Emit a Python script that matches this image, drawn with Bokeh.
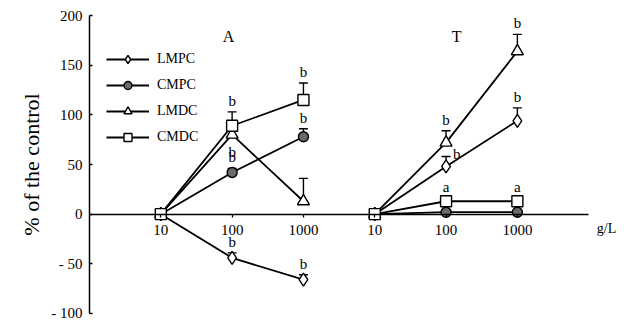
from bokeh.plotting import figure
from bokeh.models import Range1d, FixedTicker, Label, Legend, LegendItem, LinearAxis
from bokeh.embed import file_html
from bokeh.resources import INLINE

FONT = "Liberation Serif"

# ---- data ----
dose_labels = ["10", "100", "1000", "10", "100", "1000"]
x_pos = [0, 1, 2, 3, 4, 5]
group_names = ["A", "T"]
group_slices = [(0, 3), (3, 6)]
y_ticks = [-100, -50, 0, 50, 100, 150, 200]
y_tick_labels = ["- 100", "- 50", "0", "50", "100", "150", "200"]
unit_label = "g/L"
y_label = "% of the control"

series_names = ["LMPC", "CMPC", "LMDC", "CMDC"]
LMPC = [0, -44, -66, 0, 48, 94]
CMPC = [0, 42, 78, 0, 2, 2]
LMDC = [0, 80, 13, 0, 72, 164]
CMDC = [0, 89, 115, 0, 13, 13]
LMPC_err = [0, 5, 5, 0, 10, 13]
CMPC_err = [0, 4, 8, 0, 0, 0]
LMDC_err = [0, 0, 23, 0, 12, 17]
CMDC_err = [0, 14, 17, 0, 0, 0]
LMPC_sig = ["", "b", "b", "", "b", "b"]
CMPC_sig = ["", "b", "b", "", "", ""]
LMDC_sig = ["", "b", "", "", "b", "b"]
CMDC_sig = ["", "b", "b", "", "a", "a"]

# ---- styles ----
LMPC_place = ["", "above", "above", "", "right", "above"]
CMPC_place = ["", "above", "above", "", "", ""]
LMDC_place = ["", "below", "", "", "above", "above"]
CMDC_place = ["", "above", "above", "", "above", "above"]

styles = {
    "LMPC": dict(marker="diamond", size=13, fill_color="white"),
    "CMPC": dict(marker="circle", size=10, fill_color="#6a6a6a"),
    "LMDC": dict(marker="triangle", size=12, fill_color="white"),
    "CMDC": dict(marker="square", size=11, fill_color="white"),
}
data = {
    "LMPC": (LMPC, LMPC_err, LMPC_sig, LMPC_place),
    "CMPC": (CMPC, CMPC_err, CMPC_sig, CMPC_place),
    "LMDC": (LMDC, LMDC_err, LMDC_sig, LMDC_place),
    "CMDC": (CMDC, CMDC_err, CMDC_sig, CMDC_place),
}

p = figure(width=616, height=320, output_backend="svg", toolbar_location=None,
           x_range=Range1d(-1, 6.39), y_range=Range1d(-100, 200),
           x_axis_location=None, y_axis_location="left",
           min_border_left=89, min_border_right=0, min_border_top=15, min_border_bottom=7)
p.outline_line_color = None
p.grid.visible = False
p.background_fill_color = "white"
p.border_fill_color = "white"

# x axis at y = 0
xax = LinearAxis(fixed_location=0, bounds=(-1, 6))
xax.ticker = FixedTicker(ticks=x_pos)
xax.major_label_overrides = {x: l for x, l in zip(x_pos, dose_labels)}
xax.major_tick_in = 0
xax.major_tick_out = 3
xax.major_tick_line_width = 1.3
xax.minor_tick_line_color = None
xax.axis_line_width = 1.5
xax.axis_line_color = "black"
xax.major_label_text_font = FONT
xax.major_label_text_font_size = "15px"
xax.major_label_text_color = "black"
xax.major_label_standoff = 8
p.add_layout(xax, "below")

yax = p.yaxis[0]
yax.ticker = FixedTicker(ticks=y_ticks)
yax.major_label_overrides = {t: l for t, l in zip(y_ticks, y_tick_labels)}
yax.major_tick_in = 3
yax.major_tick_out = 0
yax.major_tick_line_width = 1.3
yax.minor_tick_line_color = None
yax.axis_line_width = 1.5
yax.axis_line_color = "black"
yax.major_label_text_font = FONT
yax.major_label_text_font_size = "15px"
yax.major_label_text_color = "black"
yax.major_label_standoff = 7
yax.axis_label = y_label
yax.axis_label_text_font = FONT
yax.axis_label_text_font_size = "22px"
yax.axis_label_text_font_style = "normal"
yax.axis_label_text_color = "black"
yax.axis_label_standoff = 4

items = []
for name in series_names:
    vals, errs, sigs, places = data[name]
    st = styles[name]
    line_r = None
    for a, b in group_slices:
        r = p.line(x_pos[a:b], vals[a:b], line_color="black", line_width=1.8)
        if line_r is None:
            line_r = r
    # error bars
    ex = [x for x, e in zip(x_pos, errs) if e > 0]
    ey0 = [v for v, e in zip(vals, errs) if e > 0]
    ey1 = [v + e for v, e in zip(vals, errs) if e > 0]
    if ex:
        p.segment(ex, ey0, ex, ey1, line_color="black", line_width=1.4)
        p.scatter(ex, ey1, marker="dash", size=9, line_color="black", line_width=1.4)
    mk = p.scatter(x_pos, vals, marker=st["marker"], size=st["size"],
                   fill_color=st["fill_color"], line_color="black", line_width=1.4)
    items.append(LegendItem(label=name, renderers=[line_r, mk]))
    # significance letters
    for x, v, e, s, pl in zip(x_pos, vals, errs, sigs, places):
        if not s:
            continue
        top = v + e
        common = dict(text=s, text_font=FONT, text_font_size="15px", text_color="black")
        if pl == "above":
            off_y = 3 if e > 0 else 6
            p.add_layout(Label(x=x, y=top, text_align="center", text_baseline="bottom",
                               y_offset=off_y, **common))
        elif pl == "below":
            p.add_layout(Label(x=x, y=v, text_align="center", text_baseline="top",
                               y_offset=-9, **common))
        elif pl == "right":
            p.add_layout(Label(x=x, y=top, text_align="left", text_baseline="middle",
                               x_offset=7, y_offset=3, **common))

legend = Legend(items=items, location=(17, 166), orientation="vertical")
legend.background_fill_alpha = 0
legend.border_line_alpha = 0
legend.padding = 0
legend.margin = 0
legend.glyph_width = 43
legend.glyph_height = 20
legend.label_height = 20
legend.spacing = 6
legend.label_standoff = 8
legend.label_text_font = FONT
legend.label_text_font_size = "14px"
legend.label_text_color = "black"
p.add_layout(legend, "center")

for gname, gx in zip(group_names, [0.95, 4.15]):
    p.add_layout(Label(x=gx, y=179, text=gname, text_align="center", text_baseline="middle",
                       text_font=FONT, text_font_size="16px", text_color="black"))

p.add_layout(Label(x=6.25, y=-14, text=unit_label, text_align="center", text_baseline="middle",
                   text_font=FONT, text_font_size="14px", text_color="black"))

open("out.html", "w").write(file_html(p, INLINE))
